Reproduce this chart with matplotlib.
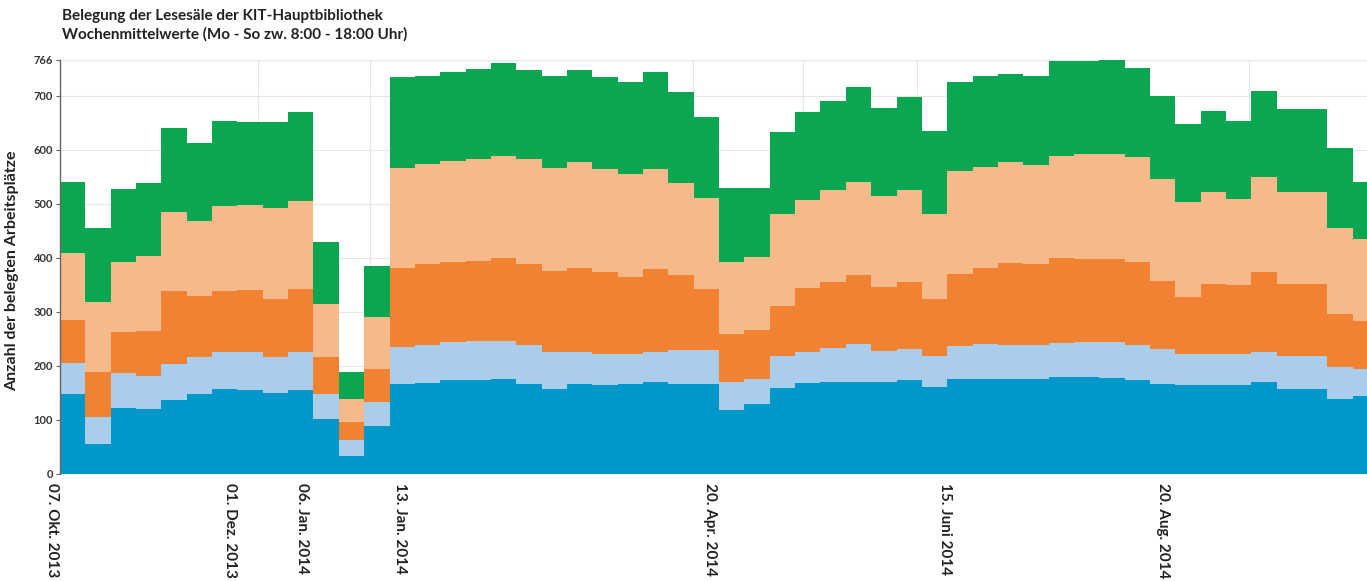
import numpy as np
import matplotlib.pyplot as plt
import matplotlib.transforms as mtransforms

# Wochenmittelwerte je Bereich (von unten nach oben gestapelt)
blue = [148, 55, 123, 120, 136, 148, 157, 155, 149, 155, 102, 34, 88,
        167, 168, 173, 174, 176, 167, 158, 167, 164, 167, 170, 167, 167,
        118, 130, 160, 168, 171, 170, 170, 173, 161, 176, 176, 176, 176,
        179, 179, 178, 173, 167, 164, 164, 164, 170, 158, 158, 139, 145]
light_blue = [57, 51, 63, 62, 67, 68, 68, 70, 68, 70, 46, 28, 45,
              68, 70, 71, 73, 71, 71, 67, 58, 58, 55, 55, 63, 63,
              52, 46, 59, 57, 62, 70, 58, 59, 58, 60, 64, 62, 62,
              63, 65, 66, 65, 65, 58, 58, 58, 55, 61, 61, 59, 50]
orange = [80, 82, 76, 83, 136, 114, 114, 115, 107, 117, 68, 35, 61,
          147, 151, 148, 148, 153, 151, 151, 157, 151, 142, 155, 138, 112,
          89, 90, 91, 119, 122, 128, 118, 123, 105, 134, 142, 152, 151,
          158, 154, 154, 154, 126, 105, 130, 127, 148, 133, 133, 98, 89]
peach = [124, 130, 131, 138, 146, 139, 157, 158, 168, 164, 99, 42, 96,
         185, 184, 188, 188, 189, 194, 191, 195, 191, 191, 184, 170, 168,
         133, 135, 171, 163, 170, 173, 169, 170, 157, 190, 186, 188, 183,
         189, 194, 194, 194, 188, 176, 169, 160, 176, 169, 169, 160, 151]
green = [132, 137, 135, 135, 156, 143, 158, 154, 159, 163, 114, 50, 95,
         168, 164, 163, 166, 172, 164, 170, 170, 170, 171, 179, 168, 150,
         138, 129, 151, 162, 166, 175, 163, 172, 154, 165, 169, 163, 165,
         175, 173, 174, 166, 154, 144, 151, 144, 160, 154, 154, 148, 105]

layers = [blue, light_blue, orange, peach, green]
colors = ['#0098cb', '#aacdeb', '#f08232', '#f6b98a', '#0aa651']

date_labels = ['07. Okt. 2013', '01. Dez. 2013', '06. Jan. 2014', '13. Jan. 2014',
               '20. Apr. 2014', '15. Juni 2014', '20. Aug. 2014']
label_pos = [-0.32, 6.71, 9.55, 13.41, 25.64, 34.91, 43.51]
vgrid_pos = [7.81, 12.23, 24.97, 29.3, 33.8, 46.9]
yticks = [0, 100, 200, 300, 400, 500, 600, 700, 766]

plt.rcParams['font.family'] = ['Lato', 'DejaVu Sans']

fig = plt.figure(figsize=(13.67, 5.81), dpi=100)
ax = fig.add_axes([60 / 1367, 107 / 581, 1307 / 1367, 414 / 581])

n = len(blue)
x = np.arange(n + 1)
bottom = np.zeros(n)
for vals, col in zip(layers, colors):
    top = bottom + np.array(vals)
    ax.fill_between(x, np.append(bottom, bottom[-1]), np.append(top, top[-1]),
                    step='post', color=col, linewidth=0, zorder=2)
    bottom = top

ax.set_xlim(0, 51.56)
ax.set_ylim(0, 766)
ax.set_yticks(yticks)
ax.set_yticklabels([str(t) for t in yticks], fontsize=8, fontweight='bold', color='#333333')
ax.tick_params(axis='y', length=3, width=0.8, color='#666666', pad=2)
ax.set_xticks([])
ax.grid(axis='y', color='#e6e6e6', linewidth=0.8, zorder=0)
for v in vgrid_pos:
    ax.axvline(v, color='#e6e6e6', linewidth=0.8, zorder=0)

for s in ['top', 'right', 'bottom']:
    ax.spines[s].set_visible(False)
ax.spines['left'].set_color('#666666')
ax.spines['left'].set_linewidth(1.0)

trans = mtransforms.blended_transform_factory(ax.transData, ax.transAxes)
for pos, lab in zip(label_pos, date_labels):
    ax.text(pos, -0.022, lab, transform=trans, rotation=270, ha='center', va='top',
            fontsize=11, fontweight='bold', color='#222222', clip_on=False)

ax.set_ylabel('Anzahl der belegten Arbeitsplätze', fontsize=11.5, fontweight='bold',
              color='#222222', labelpad=6)
ax.yaxis.set_label_coords(-0.031, 0.49)

fig.text(62 / 1367, 1 - 9 / 581, 'Belegung der Lesesäle der KIT-Hauptbibliothek\n'
         'Wochenmittelwerte (Mo - So zw. 8:00 - 18:00 Uhr)',
         ha='left', va='top', fontsize=11, fontweight='bold', color='#222222',
         linespacing=1.35)

fig.savefig('out.png', dpi=100)
